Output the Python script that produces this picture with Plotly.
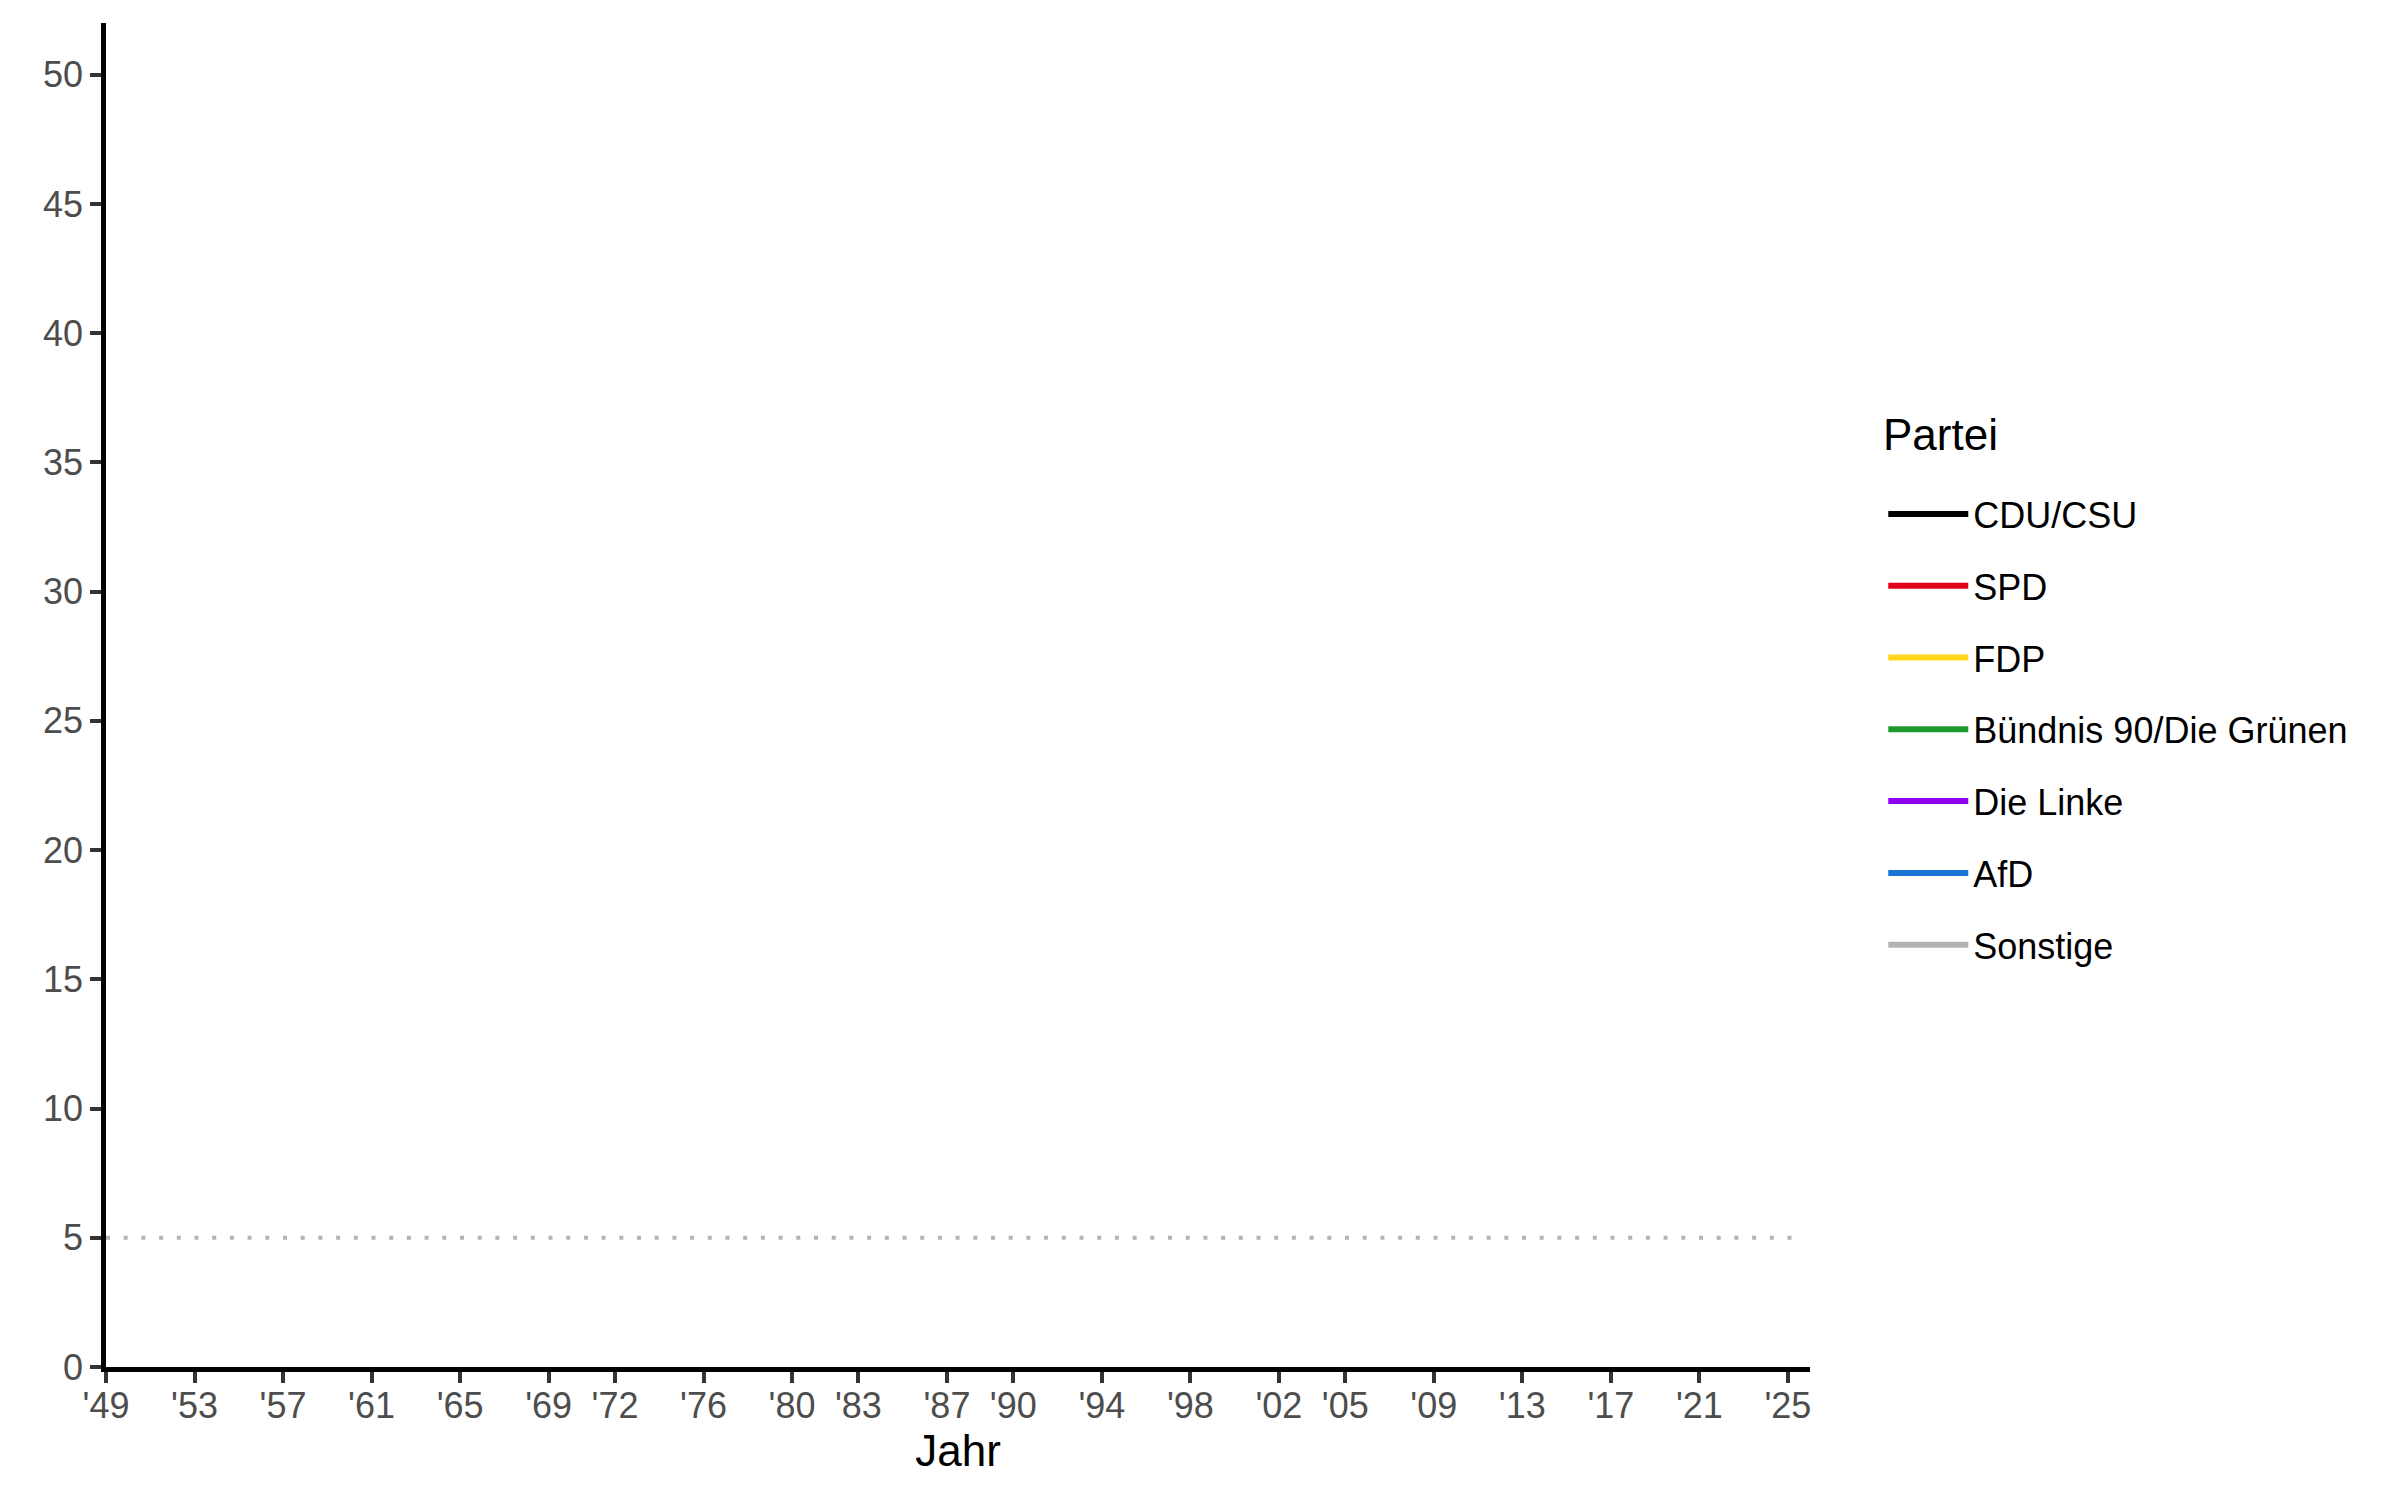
import plotly.graph_objects as go

# parties and colours in legend order
parteien = ["CDU/CSU", "SPD", "FDP", "Bündnis 90/Die Grünen", "Die Linke", "AfD", "Sonstige"]
farben = ["#000000", "#E2001A", "#FFD61A", "#1E9A2C", "#8F00F0", "#1A74D6", "#B3B3B3"]

# election years shown on the x axis
wahljahre = [1949, 1953, 1957, 1961, 1965, 1969, 1972, 1976, 1980, 1983, 1987,
             1990, 1994, 1998, 2002, 2005, 2009, 2013, 2017, 2021, 2025]
jahr_labels = ["'" + str(j)[2:] for j in wahljahre]

y_ticks = [0, 5, 10, 15, 20, 25, 30, 35, 40, 45, 50]
huerde = 5  # 5% threshold

# the picture shows no drawn results (yet), only the legend -> all missing
ergebnisse = {
    "CDU/CSU": [None] * 21,
    "SPD": [None] * 21,
    "FDP": [None] * 21,
    "Bündnis 90/Die Grünen": [None] * 21,
    "Die Linke": [None] * 21,
    "AfD": [None] * 21,
    "Sonstige": [None] * 21,
}

FONT = "Arial, Liberation Sans, sans-serif"

fig = go.Figure()

for i, p in enumerate(parteien):
    fig.add_trace(go.Scatter(
        x=wahljahre, y=ergebnisse[p],
        mode="lines", name=p, legendgroup=p,
        line=dict(color=farben[i], width=6),
    ))

fig.add_shape(type="line", xref="paper", yref="y", x0=0, x1=0.99,
              y0=huerde, y1=huerde,
              line=dict(color="#B3B3B3", width=4, dash="4px,13.7px"))

axis_common = dict(
    showline=True, linecolor="black", linewidth=4.5,
    ticks="outside", ticklen=11, tickwidth=3.5, tickcolor="#333333",
    showgrid=False, zeroline=False, automargin=False,
    tickfont=dict(family=FONT, size=36, color="#4D4D4D"),
)

fig.update_xaxes(
    range=[1949, 2026], tickvals=wahljahre, ticktext=jahr_labels,
    ticklabelstandoff=-8,
    title=dict(text="Jahr", font=dict(family=FONT, size=44, color="black"), standoff=8),
    **axis_common,
)
fig.update_yaxes(range=[0, 52], tickvals=y_ticks, **axis_common)

# legend title as a separate label (more room below it than plotly's own title)
fig.add_annotation(text="Partei", xref="paper", yref="paper", x=1.0417, y=0.6935,
                   xanchor="left", yanchor="middle", showarrow=False,
                   font=dict(family=FONT, size=44, color="black"))

fig.update_layout(
    width=2400, height=1500,
    plot_bgcolor="white", paper_bgcolor="white",
    margin=dict(l=98, r=598, t=15, b=141),
    font=dict(family=FONT, color="black"),
    showlegend=True,
    legend=dict(
        font=dict(family=FONT, size=36, color="black"),
        x=1.043, xanchor="left", y=0.657, yanchor="top",
        tracegroupgap=22, itemwidth=80,
        bgcolor="rgba(0,0,0,0)",
    ),
)

fig.write_html("out.html")
